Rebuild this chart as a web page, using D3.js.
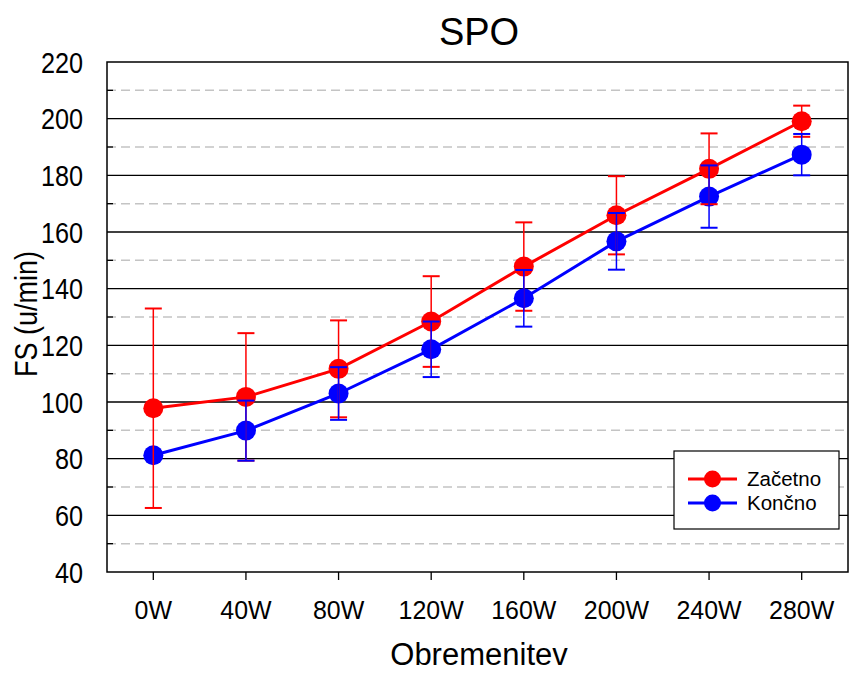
<!DOCTYPE html>
<html>
<head>
<meta charset="utf-8">
<script src="https://cdn.jsdelivr.net/npm/d3@7"></script>
<style>
  body { margin: 0; background: #fff; }
  text { font-family: "Liberation Sans", Arial, sans-serif; fill: #000; }
</style>
</head>
<body>
<svg id="chart" width="849" height="673"></svg>
<script>
const categories = ["0W", "40W", "80W", "120W", "160W", "200W", "240W", "280W"];
const zacetno = [97.8, 101.8, 111.7, 128.4, 147.8, 165.9, 182.3, 199.1];
const zacetnoSD = [35.2, 22.5, 17.1, 16.0, 15.6, 13.8, 12.5, 5.5];
const koncno = [81.2, 89.9, 103.0, 118.6, 136.6, 156.7, 172.5, 187.3];
const koncnoSD = [null, 10.6, 9.3, 9.8, 10.0, 10.0, 11.0, 7.3];
const yTicks = [40, 60, 80, 100, 120, 140, 160, 180, 200, 220];
const yMinor = [50, 70, 90, 110, 130, 150, 170, 190, 210];

const series = [
  { name: "Začetno", color: "#ff0000", values: zacetno, sd: zacetnoSD },
  { name: "Končno", color: "#0000ff", values: koncno, sd: koncnoSD }
];

const svg = d3.select("#chart");
const margin = { left: 107, right: 1, top: 62, bottom: 101 };
const W = 849, H = 673;

const x = d3.scaleBand()
  .domain(categories)
  .range([margin.left, W - margin.right]);
const y = d3.scaleLinear()
  .domain([40, 220])
  .range([H - margin.bottom, margin.top]);
const cx = (d) => x(d) + x.bandwidth() / 2;

// grid lines
svg.append("g")
  .selectAll("line")
  .data(yMinor)
  .join("line")
  .attr("x1", margin.left)
  .attr("x2", W - margin.right)
  .attr("y1", (d) => y(d))
  .attr("y2", (d) => y(d))
  .attr("stroke", "#c4c4c4")
  .attr("stroke-width", 1.5)
  .attr("stroke-dasharray", "9,5");

svg.append("g")
  .selectAll("line")
  .data(yTicks.slice(1, -1))
  .join("line")
  .attr("x1", margin.left)
  .attr("x2", W - margin.right)
  .attr("y1", (d) => y(d))
  .attr("y2", (d) => y(d))
  .attr("stroke", "#000")
  .attr("stroke-width", 1.3);

// minor ticks (inward)
svg.append("g")
  .selectAll("line")
  .data(yMinor)
  .join("line")
  .attr("x1", margin.left)
  .attr("x2", margin.left + 6)
  .attr("y1", (d) => y(d))
  .attr("y2", (d) => y(d))
  .attr("stroke", "#000")
  .attr("stroke-width", 1.3);

// frame
svg.append("rect")
  .attr("x", margin.left)
  .attr("y", margin.top)
  .attr("width", W - margin.right - margin.left)
  .attr("height", H - margin.bottom - margin.top)
  .attr("fill", "none")
  .attr("stroke", "#000")
  .attr("stroke-width", 1.5);

// x ticks
svg.append("g")
  .selectAll("line")
  .data(categories)
  .join("line")
  .attr("x1", (d) => cx(d))
  .attr("x2", (d) => cx(d))
  .attr("y1", y(40))
  .attr("y2", y(40) + 8)
  .attr("stroke", "#000")
  .attr("stroke-width", 1.3);

svg.append("g")
  .selectAll("text")
  .data(categories)
  .join("text")
  .attr("transform", (d) => `translate(${cx(d)},619) scale(0.96,1)`)
  .attr("text-anchor", "middle")
  .style("font-size", "26px")
  .text((d) => d);

// y tick labels
svg.append("g")
  .selectAll("text")
  .data(yTicks)
  .join("text")
  .attr("transform", (d) => `translate(83,${y(d) + 10.5}) scale(0.87,1)`)
  .attr("text-anchor", "end")
  .style("font-size", "29px")
  .text((d) => d);

// titles
svg.append("text")
  .attr("x", 479)
  .attr("y", 45)
  .attr("text-anchor", "middle")
  .style("font-size", "38px")
  .text("SPO");

svg.append("text")
  .attr("x", 479)
  .attr("y", 665)
  .attr("text-anchor", "middle")
  .style("font-size", "31px")
  .text("Obremenitev");

svg.append("text")
  .attr("transform", "translate(37,314) rotate(-90) scale(0.87,1)")
  .attr("text-anchor", "middle")
  .style("font-size", "31px")
  .text("FS (u/min)");

// lines
const line = d3.line()
  .x((d, i) => cx(categories[i]))
  .y((d) => y(d));

series.forEach((s) => {
  svg.append("path")
    .datum(s.values)
    .attr("d", line)
    .attr("fill", "none")
    .attr("stroke", s.color)
    .attr("stroke-width", 3);
});

// markers
series.forEach((s) => {
  svg.append("g")
    .selectAll("circle")
    .data(s.values)
    .join("circle")
    .attr("cx", (d, i) => cx(categories[i]))
    .attr("cy", (d) => y(d))
    .attr("r", 10)
    .attr("fill", s.color);
});

// error bars
series.forEach((s) => {
  const g = svg.append("g").attr("stroke", s.color).attr("stroke-width", 1.5);
  s.values.forEach((v, i) => {
    const sd = s.sd[i];
    if (sd == null) return;
    const xc = cx(categories[i]);
    g.append("line")
      .attr("x1", xc).attr("x2", xc)
      .attr("y1", y(v - sd)).attr("y2", y(v + sd));
    [v - sd, v + sd].forEach((e) => {
      g.append("line")
        .attr("x1", xc - 8.5).attr("x2", xc + 8.5)
        .attr("y1", y(e)).attr("y2", y(e))
        .attr("stroke-width", 2);
    });
  });
});

// legend
const leg = svg.append("g");
leg.append("rect")
  .attr("x", 674)
  .attr("y", 451)
  .attr("width", 165)
  .attr("height", 78)
  .attr("fill", "#fff")
  .attr("stroke", "#000")
  .attr("stroke-width", 1.2);

series.forEach((s, i) => {
  const ly = 479 + i * 24;
  leg.append("line")
    .attr("x1", 688).attr("x2", 737)
    .attr("y1", ly).attr("y2", ly)
    .attr("stroke", s.color)
    .attr("stroke-width", 3);
  leg.append("circle")
    .attr("cx", 712.5).attr("cy", ly)
    .attr("r", 8.5)
    .attr("fill", s.color);
  leg.append("text")
    .attr("x", 747)
    .attr("y", ly + 7)
    .style("font-size", "20.5px")
    .text(s.name);
});
</script>
</body>
</html>
